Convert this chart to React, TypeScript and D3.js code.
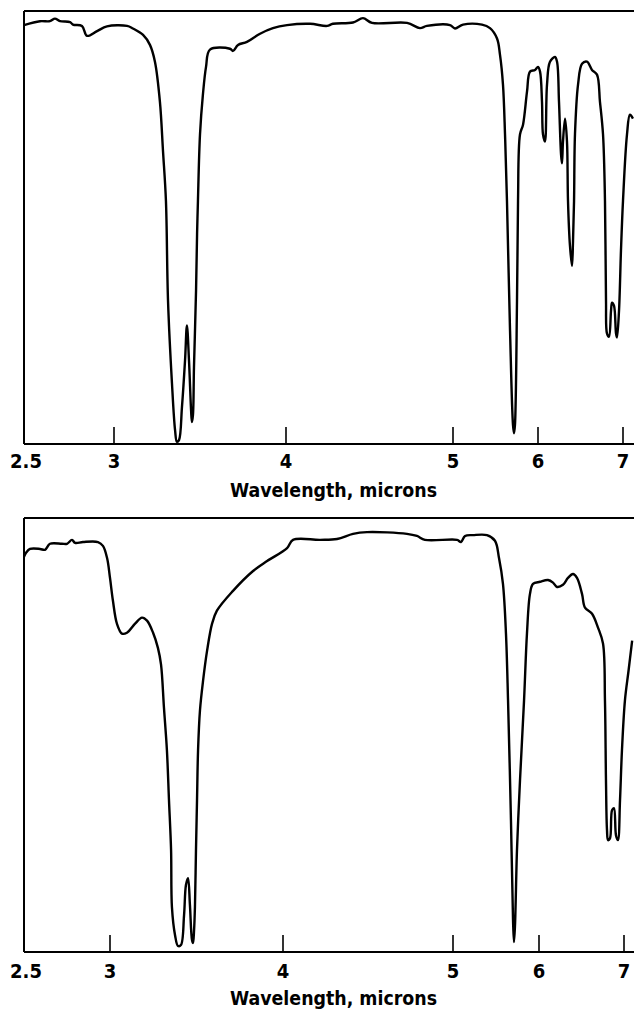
import React from "react";
import * as d3 from "d3";

// ---- Data (wavelength in microns, transmittance in %) ----
const tickValues = [2.5, 3, 4, 5, 6, 7];
const tickLabels = ["2.5", "3", "4", "5", "6", "7"];
const axisTitle = "Wavelength, microns";

const topWavelength = [
  2.5, 2.589, 2.644, 2.672, 2.7, 2.756, 2.772, 2.822, 2.85, 2.906, 2.961, 3.076, 3.11, 3.169,
  3.209, 3.238, 3.267, 3.285, 3.302, 3.314, 3.337, 3.355, 3.366, 3.378, 3.395, 3.413, 3.424,
  3.436, 3.448, 3.453, 3.459, 3.465, 3.477, 3.483, 3.488, 3.5, 3.517, 3.535, 3.558, 3.674,
  3.692, 3.721, 3.773, 3.849, 3.924, 4.006, 4.144, 4.246, 4.281, 4.401, 4.461, 4.515, 4.725,
  4.802, 4.844, 4.982, 5.024, 5.118, 5.341, 5.435, 5.518, 5.553, 5.588, 5.612, 5.635, 5.671,
  5.706, 5.718, 5.729, 5.753, 5.765, 5.788, 5.824, 5.871, 5.906, 5.965, 6.0, 6.024, 6.047,
  6.059, 6.082, 6.106, 6.141, 6.2, 6.224, 6.247, 6.271, 6.282, 6.294, 6.318, 6.341, 6.353,
  6.376, 6.4, 6.412, 6.424, 6.435, 6.471, 6.518, 6.576, 6.635, 6.694, 6.729, 6.765, 6.788,
  6.8, 6.812, 6.835, 6.859, 6.871, 6.894, 6.918, 6.929, 6.953, 6.976, 7.0, 7.047, 7.082, 7.118,
];
const topTransmittance = [
  97.2, 98.1, 98.1, 98.7, 98.1, 97.9, 97.3, 97.0, 94.7, 95.8, 96.9, 97.0, 96.4, 94.9,
  92.6, 88.7, 79.4, 67.9, 56.4, 33.3, 14.1, 3.2, 0.5, 0.9, 8.5, 19.4, 27.5,
  19.4, 7.9, 5.1, 6.7, 17.8, 35.6, 48.7, 56.4, 71.8, 81.1, 87.5, 91.5, 91.7,
  91.2, 92.6, 93.3, 95.2, 96.5, 97.2, 97.5, 97.0, 97.5, 97.8, 98.8, 97.7, 97.7,
  96.5, 97.0, 97.2, 96.4, 97.3, 97.3, 96.5, 94.1, 90.3, 83.4, 71.8, 56.4, 26.3,
  4.4, 2.5, 4.4, 33.3, 56.4, 71.8, 74.1, 81.8, 86.4, 86.8, 87.5, 86.4, 79.4,
  71.8, 70.2, 83.4, 88.7, 89.8, 88.7, 79.4, 67.2, 65.1, 70.2, 75.5, 70.2, 56.4,
  46.0, 41.3, 47.1, 56.4, 71.8, 83.4, 88.2, 88.7, 86.8, 85.7, 79.4, 71.8, 56.4,
  33.3, 25.6, 24.9, 30.9, 32.8, 32.1, 25.6, 24.7, 30.9, 44.8, 56.4, 71.8, 76.4, 75.5,
];

const bottomWavelength = [
  2.5, 2.512, 2.535, 2.593, 2.622, 2.651, 2.721, 2.75, 2.779, 2.797, 2.843, 2.93, 2.959, 2.983,
  3.0, 3.017, 3.04, 3.069, 3.098, 3.145, 3.185, 3.214, 3.249, 3.277, 3.295, 3.312, 3.329,
  3.341, 3.353, 3.358, 3.376, 3.393, 3.41, 3.428, 3.439, 3.451, 3.462, 3.474, 3.48, 3.486,
  3.491, 3.497, 3.503, 3.509, 3.52, 3.538, 3.561, 3.59, 3.618, 3.711, 3.827, 3.908, 4.024,
  4.059, 4.218, 4.318, 4.412, 4.494, 4.729, 4.788, 4.835, 5.047, 5.093, 5.14, 5.233, 5.395,
  5.488, 5.535, 5.581, 5.616, 5.64, 5.674, 5.698, 5.709, 5.721, 5.744, 5.779, 5.826, 5.86,
  5.895, 5.93, 6.012, 6.106, 6.165, 6.212, 6.282, 6.341, 6.4, 6.447, 6.506, 6.541, 6.624,
  6.694, 6.753, 6.776, 6.788, 6.8, 6.812, 6.835, 6.859, 6.882, 6.906, 6.929, 6.953, 6.976,
  7.012, 7.059, 7.106,
];
const bottomTransmittance = [
  91.5, 92.4, 93.3, 93.3, 93.1, 94.5, 94.5, 94.5, 95.4, 94.7, 94.9, 94.9, 94.0, 91.2,
  86.6, 81.3, 76.0, 73.7, 73.9, 76.0, 77.4, 76.7, 73.9, 70.4, 66.5, 56.5, 46.7,
  35.1, 23.6, 10.4, 3.9, 1.4, 1.6, 8.5, 15.5, 17.1, 10.9, 2.8, 2.1, 5.1,
  10.4, 23.6, 35.1, 46.7, 55.9, 62.8, 69.7, 76.0, 79.0, 83.6, 88.2, 90.5, 93.5,
  95.4, 95.4, 95.6, 96.8, 97.2, 96.8, 96.3, 95.4, 95.4, 94.9, 96.3, 96.5, 96.5,
  95.2, 91.2, 85.2, 73.7, 58.2, 30.5, 7.4, 2.3, 6.2, 23.6, 39.7, 58.2, 73.7,
  82.9, 85.2, 85.7, 86.1, 85.5, 84.5, 85.0, 86.6, 87.5, 86.6, 82.9, 79.7, 78.3,
  75.1, 71.4, 58.2, 39.7, 28.2, 25.9, 26.3, 32.8, 33.3, 27.0, 25.9, 35.1, 46.7,
  58.2, 65.1, 72.1,
];

// ---- Layout ----
const W = 634;
const H = 1010;
const xDomain = [2.5, 3, 4, 5, 6, 7, 7.13];

type Panel = {
  wl: number[];
  t: number[];
  top: number;
  base: number;
  left: number;
  xRange: number[];
  labelY: number;
  titleY: number;
};

const panels: Panel[] = [
  {
    wl: topWavelength,
    t: topTransmittance,
    top: 11,
    base: 444,
    left: 24,
    xRange: [24, 114, 286, 453, 538, 623, 634],
    labelY: 468,
    titleY: 497,
  },
  {
    wl: bottomWavelength,
    t: bottomTransmittance,
    top: 518,
    base: 952,
    left: 24,
    xRange: [24, 110, 283, 453, 539, 624, 634],
    labelY: 978,
    titleY: 1005,
  },
];

const FONT = "'DejaVu Sans Condensed', 'Liberation Sans Narrow', 'DejaVu Sans', sans-serif";

function PanelView({ p }: { p: Panel }) {
  const x = d3.scaleLinear().domain(xDomain).range(p.xRange);
  const y = d3.scaleLinear().domain([0, 100]).range([p.base, p.top + 2]);
  const pts: [number, number][] = p.wl.map((w, i) => [w, p.t[i]]);
  const line = d3
    .line<[number, number]>()
    .x((d) => x(d[0]))
    .y((d) => y(d[1]))
    .curve(d3.curveCatmullRom.alpha(0.5));
  return (
    <g>
      {/* frame */}
      <line x1={p.left} x2={W} y1={p.top} y2={p.top} stroke="#000" strokeWidth={2} />
      <line x1={p.left} x2={p.left} y1={p.top} y2={p.base} stroke="#000" strokeWidth={2} />
      <line x1={p.left} x2={W} y1={p.base} y2={p.base} stroke="#000" strokeWidth={2} />
      {tickValues.slice(1).map((v) => (
        <line
          key={v}
          x1={x(v)}
          x2={x(v)}
          y1={p.base}
          y2={p.base - 17}
          stroke="#000"
          strokeWidth={1.6}
        />
      ))}
      {tickValues.map((v, i) => (
        <text
          key={"l" + v}
          x={x(v) + (i === 0 ? 2 : 0)}
          y={p.labelY}
          textAnchor="middle"
          fontFamily={FONT}
          fontWeight="bold"
          fontSize={20}
          fill="#000"
        >
          {tickLabels[i]}
        </text>
      ))}
      <text
        x={230}
        y={p.titleY}
        fontFamily={FONT}
        fontWeight="bold"
        fontSize={19}
        textLength={207}
        lengthAdjust="spacingAndGlyphs"
        fill="#000"
      >
        {axisTitle}
      </text>
      <path d={line(pts) || ""} fill="none" stroke="#000" strokeWidth={2.4} strokeLinejoin="round" />
    </g>
  );
}

export default function App() {
  return (
    <svg
      width={W}
      height={H}
      viewBox={`0 0 ${W} ${H}`}
      style={{ position: "absolute", left: 0, top: 0, background: "#fff" }}
    >
      <rect x={0} y={0} width={W} height={H} fill="#fff" />
      {panels.map((p, i) => (
        <PanelView key={i} p={p} />
      ))}
    </svg>
  );
}
